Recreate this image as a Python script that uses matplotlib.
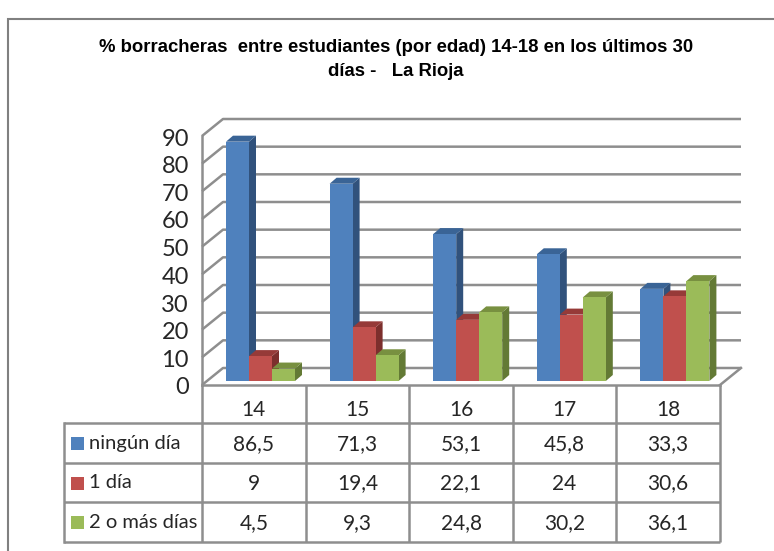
import matplotlib
matplotlib.use("Agg")
import matplotlib.pyplot as plt
from matplotlib.patches import Polygon, Rectangle

ages = ["14", "15", "16", "17", "18"]
series_names = ["ningún día", "1 día", "2 o más días"]
ningun_dia = [86.5, 71.3, 53.1, 45.8, 33.3]
un_dia = [9, 19.4, 22.1, 24, 30.6]
dos_o_mas = [4.5, 9.3, 24.8, 30.2, 36.1]
value_labels = [
    ["86,5", "71,3", "53,1", "45,8", "33,3"],
    ["9", "19,4", "22,1", "24", "30,6"],
    ["4,5", "9,3", "24,8", "30,2", "36,1"],
]
y_ticks = list(range(0, 100, 10))
title_lines = ["% borracheras  entre estudiantes (por edad) 14-18 en los últimos 30", "días -   La Rioja"]

FRONT = ["#4f81bd", "#c0504d", "#9bbb59"]
TOP = ["#3a6496", "#963a38", "#789040"]
SIDE = ["#31527c", "#7c2f2d", "#637a35"]
GRID = "#8e8e8e"
TEXT = "#262626"

W, H = 774, 551
fig = plt.figure(figsize=(W / 100, H / 100), dpi=100)

# pixel overlay for frame, title and data table
page = fig.add_axes([0, 0, 1, 1])
page.set_xlim(0, W)
page.set_ylim(H, 0)
page.axis("off")

# main plot: front wall of the 3D box, x in categories, y in percent
x0, x1, y0, y90 = 202, 720, 385, 136
ax = fig.add_axes([x0 / W, 1 - y0 / H, (x1 - x0) / W, (y0 - y90) / H])
ax.set_xlim(0, 5)
ax.set_ylim(0, 90)
ax.axis("off")
ax.patch.set_alpha(0)

px_x = 5 / (x1 - x0)
px_y = 90 / (y0 - y90)
wall_dx = 21 * px_x
wall_dy = 17 * px_y
bar_dx = 7 * px_x
bar_dy = 6 * px_y
bar_w = 23 * px_x
bar_base = 4 * px_y
bar_left = 24 * px_x

# frame
page.plot([8, 8, W], [H, 19, 19], color="#808080", lw=1.5, solid_joinstyle="miter")

for i, line in enumerate(title_lines):
    page.text(396, 47 + 25 * i, line, ha="center", va="center", fontsize=13.3,
              fontweight="bold", family="Liberation Sans", color="black")

# walls and gridlines
for v in y_ticks:
    ax.plot([0, wall_dx, 5 + wall_dx], [v, v + wall_dy, v + wall_dy], color=GRID, lw=1.8,
            clip_on=False, solid_capstyle="butt", zorder=1)
    ax.text(-13 * px_x, v - 3 * px_y, str(v), ha="right", va="center", fontsize=17,
            family="Lato", color=TEXT, clip_on=False)
ax.plot([0, 0], [0, 90], color=GRID, lw=1.8, clip_on=False, zorder=1)
ax.plot([0, 5], [0, 0], color=GRID, lw=1.8, clip_on=False, zorder=1)
ax.plot([5, 5 + wall_dx], [0, wall_dy], color=GRID, lw=1.8, clip_on=False, zorder=1)

# bars
all_series = [ningun_dia, un_dia, dos_o_mas]
for g in range(len(ages)):
    for s, values in enumerate(all_series):
        left = g + bar_left + s * bar_w
        right = left + bar_w
        top = bar_base + values[g]
        z = 3 + s
        ax.add_patch(Polygon([(right, bar_base), (right + bar_dx, bar_base + bar_dy),
                              (right + bar_dx, top + bar_dy), (right, top)],
                             facecolor=SIDE[s], edgecolor="none", clip_on=False, zorder=z))
        ax.add_patch(Polygon([(left, top), (left + bar_dx, top + bar_dy),
                              (right + bar_dx, top + bar_dy), (right, top)],
                             facecolor=TOP[s], edgecolor="none", clip_on=False, zorder=z))
        ax.bar(left, values[g], width=bar_w, bottom=bar_base, align="edge",
               color=FRONT[s], clip_on=False, zorder=z + 0.5)

# data table
col_x = [x0 + (x1 - x0) * i / 5 for i in range(6)]
row_y = [385, 423, 463, 502, 542]
table_left = 64
for x in col_x:
    page.plot([x, x], [row_y[0], row_y[-1]], color=GRID, lw=1.8, solid_capstyle="butt")
page.plot([table_left, table_left], [row_y[1], row_y[-1]], color=GRID, lw=1.8)
for y in row_y[1:]:
    page.plot([table_left, col_x[-1]], [y, y], color=GRID, lw=1.8, solid_capstyle="butt")

for i, age in enumerate(ages):
    cx = (col_x[i] + col_x[i + 1]) / 2
    page.text(cx, 410, age, ha="center", va="center", fontsize=15, family="Lato", color=TEXT)
    for r in range(3):
        page.text(cx, (row_y[r + 1] + row_y[r + 2]) / 2 + 1, value_labels[r][i], ha="center",
                  va="center", fontsize=15, family="Lato", color=TEXT)

for r, name in enumerate(series_names):
    cy = (row_y[r + 1] + row_y[r + 2]) / 2
    page.add_patch(Rectangle((71, cy - 6), 13, 13, facecolor=FRONT[r], edgecolor="none"))
    page.text(89, cy, name, ha="left", va="center", fontsize=14.5, family="Lato", color=TEXT)

fig.savefig("out.png", dpi=100)
